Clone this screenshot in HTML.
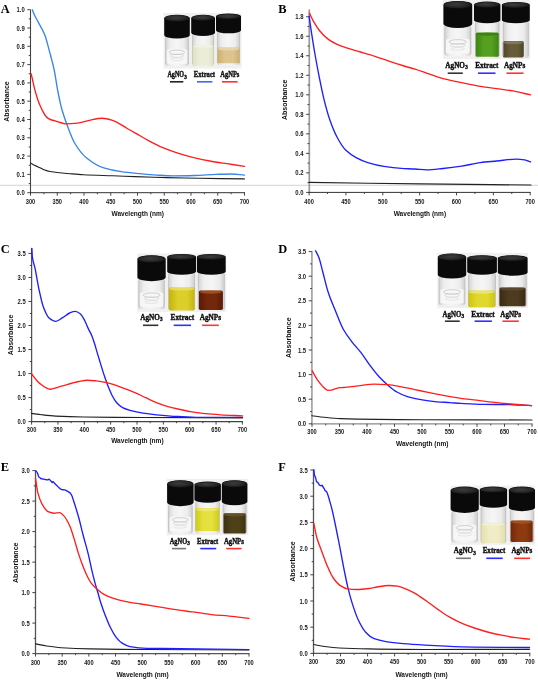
<!DOCTYPE html><html><head><meta charset="utf-8"><style>html,body{margin:0;padding:0;background:#fff;}svg{display:block;filter:blur(0.3px);}</style></head><body>
<svg width="538" height="685" viewBox="0 0 538 685">
<rect width="538" height="685" fill="#fff"/>
<defs><linearGradient id="glass" x1="0" x2="1" y1="0" y2="0"><stop offset="0" stop-color="#d0d0d0"/><stop offset="0.2" stop-color="#eeeeee"/><stop offset="0.5" stop-color="#f6f6f6"/><stop offset="0.8" stop-color="#ececec"/><stop offset="1" stop-color="#cccccc"/></linearGradient><radialGradient id="captop" cx="0.45" cy="0.4" r="0.6"><stop offset="0" stop-color="#3c3c3c"/><stop offset="0.6" stop-color="#2a2a2a"/><stop offset="1" stop-color="#161616"/></radialGradient></defs>
<path d="M0 185.3H538" stroke="#cfcfcf" stroke-width="0.9"/>
<text x="0.8" y="12.8" font-size="12.4" text-anchor="start" font-weight="bold" font-family="Liberation Serif, serif" fill="#000" >A</text>
<path d="M30.5 9.6V193.2" stroke="#444" stroke-width="1.1" fill="none"/>
<path d="M30 192.7H245" stroke="#333" stroke-width="1" fill="none"/>
<text x="24.7" y="195.2" font-size="6.8" text-anchor="end" font-weight="bold" font-family="Liberation Sans, sans-serif" fill="#1a1a1a" textLength="8.2" lengthAdjust="spacingAndGlyphs" >0.0</text>
<text x="24.7" y="176.9" font-size="6.8" text-anchor="end" font-weight="bold" font-family="Liberation Sans, sans-serif" fill="#1a1a1a" textLength="8.2" lengthAdjust="spacingAndGlyphs" >0.1</text>
<text x="24.7" y="158.6" font-size="6.8" text-anchor="end" font-weight="bold" font-family="Liberation Sans, sans-serif" fill="#1a1a1a" textLength="8.2" lengthAdjust="spacingAndGlyphs" >0.2</text>
<text x="24.7" y="140.3" font-size="6.8" text-anchor="end" font-weight="bold" font-family="Liberation Sans, sans-serif" fill="#1a1a1a" textLength="8.2" lengthAdjust="spacingAndGlyphs" >0.3</text>
<text x="24.7" y="122" font-size="6.8" text-anchor="end" font-weight="bold" font-family="Liberation Sans, sans-serif" fill="#1a1a1a" textLength="8.2" lengthAdjust="spacingAndGlyphs" >0.4</text>
<text x="24.7" y="103.7" font-size="6.8" text-anchor="end" font-weight="bold" font-family="Liberation Sans, sans-serif" fill="#1a1a1a" textLength="8.2" lengthAdjust="spacingAndGlyphs" >0.5</text>
<text x="24.7" y="85.4" font-size="6.8" text-anchor="end" font-weight="bold" font-family="Liberation Sans, sans-serif" fill="#1a1a1a" textLength="8.2" lengthAdjust="spacingAndGlyphs" >0.6</text>
<text x="24.7" y="67.1" font-size="6.8" text-anchor="end" font-weight="bold" font-family="Liberation Sans, sans-serif" fill="#1a1a1a" textLength="8.2" lengthAdjust="spacingAndGlyphs" >0.7</text>
<text x="24.7" y="48.8" font-size="6.8" text-anchor="end" font-weight="bold" font-family="Liberation Sans, sans-serif" fill="#1a1a1a" textLength="8.2" lengthAdjust="spacingAndGlyphs" >0.8</text>
<text x="24.7" y="30.5" font-size="6.8" text-anchor="end" font-weight="bold" font-family="Liberation Sans, sans-serif" fill="#1a1a1a" textLength="8.2" lengthAdjust="spacingAndGlyphs" >0.9</text>
<text x="24.7" y="12.2" font-size="6.8" text-anchor="end" font-weight="bold" font-family="Liberation Sans, sans-serif" fill="#1a1a1a" textLength="8.2" lengthAdjust="spacingAndGlyphs" >1.0</text>
<text x="30.5" y="203.8" font-size="6.8" text-anchor="middle" font-weight="bold" font-family="Liberation Sans, sans-serif" fill="#1a1a1a" textLength="9.5" lengthAdjust="spacingAndGlyphs" >300</text>
<text x="57.25" y="203.8" font-size="6.8" text-anchor="middle" font-weight="bold" font-family="Liberation Sans, sans-serif" fill="#1a1a1a" textLength="9.5" lengthAdjust="spacingAndGlyphs" >350</text>
<text x="84" y="203.8" font-size="6.8" text-anchor="middle" font-weight="bold" font-family="Liberation Sans, sans-serif" fill="#1a1a1a" textLength="9.5" lengthAdjust="spacingAndGlyphs" >400</text>
<text x="110.75" y="203.8" font-size="6.8" text-anchor="middle" font-weight="bold" font-family="Liberation Sans, sans-serif" fill="#1a1a1a" textLength="9.5" lengthAdjust="spacingAndGlyphs" >450</text>
<text x="137.5" y="203.8" font-size="6.8" text-anchor="middle" font-weight="bold" font-family="Liberation Sans, sans-serif" fill="#1a1a1a" textLength="9.5" lengthAdjust="spacingAndGlyphs" >500</text>
<text x="164.25" y="203.8" font-size="6.8" text-anchor="middle" font-weight="bold" font-family="Liberation Sans, sans-serif" fill="#1a1a1a" textLength="9.5" lengthAdjust="spacingAndGlyphs" >550</text>
<text x="191" y="203.8" font-size="6.8" text-anchor="middle" font-weight="bold" font-family="Liberation Sans, sans-serif" fill="#1a1a1a" textLength="9.5" lengthAdjust="spacingAndGlyphs" >600</text>
<text x="217.75" y="203.8" font-size="6.8" text-anchor="middle" font-weight="bold" font-family="Liberation Sans, sans-serif" fill="#1a1a1a" textLength="9.5" lengthAdjust="spacingAndGlyphs" >650</text>
<text x="244.5" y="203.8" font-size="6.8" text-anchor="middle" font-weight="bold" font-family="Liberation Sans, sans-serif" fill="#1a1a1a" textLength="9.5" lengthAdjust="spacingAndGlyphs" >700</text>
<path d="M27.3 192.7H30.5M28.7 183.55H30.5M27.3 174.4H30.5M28.7 165.25H30.5M27.3 156.1H30.5M28.7 146.95H30.5M27.3 137.8H30.5M28.7 128.65H30.5M27.3 119.5H30.5M28.7 110.35H30.5M27.3 101.2H30.5M28.7 92.05H30.5M27.3 82.9H30.5M28.7 73.75H30.5M27.3 64.6H30.5M28.7 55.45H30.5M27.3 46.3H30.5M28.7 37.15H30.5M27.3 28H30.5M28.7 18.85H30.5M27.3 9.7H30.5M30.5 192.7V195.7M43.88 192.7V194.3M57.25 192.7V195.7M70.62 192.7V194.3M84 192.7V195.7M97.38 192.7V194.3M110.75 192.7V195.7M124.12 192.7V194.3M137.5 192.7V195.7M150.88 192.7V194.3M164.25 192.7V195.7M177.62 192.7V194.3M191 192.7V195.7M204.38 192.7V194.3M217.75 192.7V195.7M231.12 192.7V194.3M244.5 192.7V195.7" stroke="#333" stroke-width="0.9" fill="none"/>
<text transform="translate(5.6 101.5) rotate(-90)" x="0" y="2.9" font-size="8" text-anchor="middle" font-weight="bold" font-family="Liberation Sans, sans-serif" fill="#111" textLength="40.5" lengthAdjust="spacingAndGlyphs">Absorbance</text>
<text x="137.7" y="216.2" font-size="7.7" text-anchor="middle" font-weight="bold" font-family="Liberation Sans, sans-serif" fill="#111" textLength="52.4" lengthAdjust="spacingAndGlyphs" >Wavelength (nm)</text>
<path d="M30.6 163C32.07 163.83 33.53 164.75 35 165.5C36.67 166.35 38.33 167.02 40 167.8C41.33 168.42 42.67 169.2 44 169.7C46 170.45 48 171.12 50 171.5C53.33 172.13 56.67 172.45 60 172.8C63.33 173.15 66.67 173.43 70 173.7C74.47 174.07 78.93 174.47 83.4 174.7C93.13 175.21 102.87 175.44 112.6 175.8C120.07 176.07 127.53 176.35 135 176.6C145.67 176.96 156.33 177.33 167 177.6C177.67 177.87 188.33 178.12 199 178.3C214.13 178.55 229.27 178.7 244.4 178.9" stroke="#222" stroke-width="1.15" fill="none" stroke-linejoin="round" stroke-linecap="round"/>
<path d="M32.3 9.8C32.87 11.2 33.43 12.75 34 14C35.37 17.01 36.73 19.25 38.1 21.9C40.33 26.23 42.57 29.31 44.8 35C46.47 39.25 48.13 46.38 49.8 52.6C51.27 58.07 52.73 63.02 54.2 70C55.37 75.55 56.53 84.47 57.7 90.5C58.97 97.04 60.23 103.31 61.5 108C63.43 115.15 65.37 120.31 67.3 125.5C69.73 132.03 72.17 138.89 74.6 143C78.5 149.59 82.4 154.52 86.3 157.7C92.13 162.46 97.97 166.05 103.8 167.9C109.63 169.75 115.47 170.86 121.3 171.7C127.53 172.6 133.77 173.11 140 173.7C145.47 174.22 150.93 174.77 156.4 175.1C162.1 175.45 167.8 175.9 173.5 175.9C180.63 175.9 187.77 175.7 194.9 175.5C202 175.31 209.1 174.65 216.2 174.4C221.2 174.23 226.2 174 231.2 174C235.6 174 240 174.73 244.4 175.1" stroke="#3a85ea" stroke-width="1.35" fill="none" stroke-linejoin="round" stroke-linecap="round"/>
<path d="M31.1 73.8C31.53 75.53 31.97 77.13 32.4 79C32.83 80.87 33.27 83.21 33.7 85.1C34.13 86.99 34.57 88.79 35 90.4C35.6 92.63 36.2 94.55 36.8 96.5C37.37 98.34 37.93 100.27 38.5 101.8C39.23 103.78 39.97 105.41 40.7 107C41.43 108.59 42.17 110.05 42.9 111.4C43.77 112.99 44.63 114.73 45.5 115.8C46.4 116.91 47.3 117.83 48.2 118.4C49.37 119.13 50.53 119.62 51.7 120C52.87 120.38 54.03 120.57 55.2 120.9C56.13 121.17 57.07 121.53 58 121.8C60.63 122.56 63.27 123.8 65.9 123.8C69.77 123.8 73.63 123.53 77.5 123.2C81.4 122.87 85.3 121.06 89.2 120.3C93.57 119.45 97.93 118.2 102.3 118.2C105.73 118.2 109.17 119.3 112.6 120.3C117.47 121.72 122.33 125.79 127.2 128.5C129.8 129.95 132.4 131.34 135 132.8C139.27 135.2 143.53 137.91 147.8 140.2C152.8 142.89 157.8 145.61 162.8 147.7C167.8 149.79 172.8 151.52 177.8 153.1C182.77 154.67 187.73 156.08 192.7 157.3C198.4 158.7 204.1 159.96 209.8 161C215.5 162.04 221.2 162.83 226.9 163.7C232.73 164.59 238.57 165.43 244.4 166.3" stroke="#ff1e1e" stroke-width="1.35" fill="none" stroke-linejoin="round" stroke-linecap="round"/>
<text x="278.3" y="13" font-size="12.4" text-anchor="start" font-weight="bold" font-family="Liberation Serif, serif" fill="#000" >B</text>
<path d="M309.3 9.4V192.9" stroke="#9a9a9a" stroke-width="1.7" fill="none"/>
<path d="M308.8 192.4H530.7" stroke="#333" stroke-width="1" fill="none"/>
<text x="303.5" y="194.9" font-size="6.8" text-anchor="end" font-weight="bold" font-family="Liberation Sans, sans-serif" fill="#1a1a1a" textLength="8.2" lengthAdjust="spacingAndGlyphs" >0.0</text>
<text x="303.5" y="175.38" font-size="6.8" text-anchor="end" font-weight="bold" font-family="Liberation Sans, sans-serif" fill="#1a1a1a" textLength="8.2" lengthAdjust="spacingAndGlyphs" >0.2</text>
<text x="303.5" y="155.86" font-size="6.8" text-anchor="end" font-weight="bold" font-family="Liberation Sans, sans-serif" fill="#1a1a1a" textLength="8.2" lengthAdjust="spacingAndGlyphs" >0.4</text>
<text x="303.5" y="136.34" font-size="6.8" text-anchor="end" font-weight="bold" font-family="Liberation Sans, sans-serif" fill="#1a1a1a" textLength="8.2" lengthAdjust="spacingAndGlyphs" >0.6</text>
<text x="303.5" y="116.82" font-size="6.8" text-anchor="end" font-weight="bold" font-family="Liberation Sans, sans-serif" fill="#1a1a1a" textLength="8.2" lengthAdjust="spacingAndGlyphs" >0.8</text>
<text x="303.5" y="97.3" font-size="6.8" text-anchor="end" font-weight="bold" font-family="Liberation Sans, sans-serif" fill="#1a1a1a" textLength="8.2" lengthAdjust="spacingAndGlyphs" >1.0</text>
<text x="303.5" y="77.78" font-size="6.8" text-anchor="end" font-weight="bold" font-family="Liberation Sans, sans-serif" fill="#1a1a1a" textLength="8.2" lengthAdjust="spacingAndGlyphs" >1.2</text>
<text x="303.5" y="58.26" font-size="6.8" text-anchor="end" font-weight="bold" font-family="Liberation Sans, sans-serif" fill="#1a1a1a" textLength="8.2" lengthAdjust="spacingAndGlyphs" >1.4</text>
<text x="303.5" y="38.74" font-size="6.8" text-anchor="end" font-weight="bold" font-family="Liberation Sans, sans-serif" fill="#1a1a1a" textLength="8.2" lengthAdjust="spacingAndGlyphs" >1.6</text>
<text x="303.5" y="19.22" font-size="6.8" text-anchor="end" font-weight="bold" font-family="Liberation Sans, sans-serif" fill="#1a1a1a" textLength="8.2" lengthAdjust="spacingAndGlyphs" >1.8</text>
<text x="309.1" y="203.6" font-size="6.8" text-anchor="middle" font-weight="bold" font-family="Liberation Sans, sans-serif" fill="#1a1a1a" textLength="9.5" lengthAdjust="spacingAndGlyphs" >400</text>
<text x="345.95" y="203.6" font-size="6.8" text-anchor="middle" font-weight="bold" font-family="Liberation Sans, sans-serif" fill="#1a1a1a" textLength="9.5" lengthAdjust="spacingAndGlyphs" >450</text>
<text x="382.8" y="203.6" font-size="6.8" text-anchor="middle" font-weight="bold" font-family="Liberation Sans, sans-serif" fill="#1a1a1a" textLength="9.5" lengthAdjust="spacingAndGlyphs" >500</text>
<text x="419.65" y="203.6" font-size="6.8" text-anchor="middle" font-weight="bold" font-family="Liberation Sans, sans-serif" fill="#1a1a1a" textLength="9.5" lengthAdjust="spacingAndGlyphs" >550</text>
<text x="456.5" y="203.6" font-size="6.8" text-anchor="middle" font-weight="bold" font-family="Liberation Sans, sans-serif" fill="#1a1a1a" textLength="9.5" lengthAdjust="spacingAndGlyphs" >600</text>
<text x="493.35" y="203.6" font-size="6.8" text-anchor="middle" font-weight="bold" font-family="Liberation Sans, sans-serif" fill="#1a1a1a" textLength="9.5" lengthAdjust="spacingAndGlyphs" >650</text>
<text x="530.2" y="203.6" font-size="6.8" text-anchor="middle" font-weight="bold" font-family="Liberation Sans, sans-serif" fill="#1a1a1a" textLength="9.5" lengthAdjust="spacingAndGlyphs" >700</text>
<path d="M306.1 192.4H309.3M307.5 182.64H309.3M306.1 172.88H309.3M307.5 163.12H309.3M306.1 153.36H309.3M307.5 143.6H309.3M306.1 133.84H309.3M307.5 124.08H309.3M306.1 114.32H309.3M307.5 104.56H309.3M306.1 94.8H309.3M307.5 85.04H309.3M306.1 75.28H309.3M307.5 65.52H309.3M306.1 55.76H309.3M307.5 46H309.3M306.1 36.24H309.3M307.5 26.48H309.3M306.1 16.72H309.3M309.1 192.4V195.4M327.53 192.4V194M345.95 192.4V195.4M364.38 192.4V194M382.8 192.4V195.4M401.23 192.4V194M419.65 192.4V195.4M438.08 192.4V194M456.5 192.4V195.4M474.93 192.4V194M493.35 192.4V195.4M511.78 192.4V194M530.2 192.4V195.4" stroke="#333" stroke-width="0.9" fill="none"/>
<text transform="translate(284.1 99.8) rotate(-90)" x="0" y="2.9" font-size="8" text-anchor="middle" font-weight="bold" font-family="Liberation Sans, sans-serif" fill="#111" textLength="40.5" lengthAdjust="spacingAndGlyphs">Absorbance</text>
<text x="419.9" y="216" font-size="7.7" text-anchor="middle" font-weight="bold" font-family="Liberation Sans, sans-serif" fill="#111" textLength="52.4" lengthAdjust="spacingAndGlyphs" >Wavelength (nm)</text>
<path d="M309.1 182.4C346.07 182.9 383.03 183.48 420 183.9C457 184.32 494 184.63 531 185" stroke="#222" stroke-width="1.15" fill="none" stroke-linejoin="round" stroke-linecap="round"/>
<path d="M309.1 16.1C309.87 21.43 310.63 27.07 311.4 32.1C312.67 40.42 313.93 48.27 315.2 55.5C316.67 63.87 318.13 71.53 319.6 78.8C321.07 86.07 322.53 93.38 324 99.3C325.93 107.1 327.87 114.15 329.8 119.7C332.23 126.69 334.67 132.7 337.1 137.2C340.03 142.63 342.97 147.44 345.9 150.3C349.3 153.62 352.7 155.77 356.1 157.6C360 159.7 363.9 161.39 367.8 162.6C373.13 164.25 378.47 165.57 383.8 166.4C389.63 167.3 395.47 168.04 401.3 168.4C405.87 168.68 410.43 168.74 415 169C418.9 169.22 422.8 169.9 426.7 169.9C432.13 169.9 437.57 169.06 443 168.5C449.23 167.86 455.47 167.05 461.7 166.1C467.9 165.15 474.1 163.39 480.3 162.6C485.77 161.9 491.23 161.53 496.7 161C503.3 160.36 509.9 159.1 516.5 159.1C519.23 159.1 521.97 159.41 524.7 159.8C526.63 160.08 528.57 161.2 530.5 161.9" stroke="#1e1eff" stroke-width="1.35" fill="none" stroke-linejoin="round" stroke-linecap="round"/>
<path d="M309.4 13.1C310.87 16.03 312.33 19.35 313.8 21.9C315.73 25.26 317.67 28.35 319.6 30.7C322.53 34.26 325.47 37.27 328.4 39.4C331.3 41.51 334.2 43.08 337.1 44.4C340.5 45.95 343.9 47.09 347.3 48.2C351.7 49.64 356.1 50.71 360.5 52C365.33 53.41 370.17 54.76 375 56.3C379.87 57.85 384.73 59.68 389.6 61.3C394.47 62.92 399.33 64.5 404.2 66C407.8 67.11 411.4 68.07 415 69.2C419.67 70.67 424.33 72.36 429 73.9C434.43 75.7 439.87 77.8 445.3 79.2C450.77 80.61 456.23 81.59 461.7 82.7C467.9 83.96 474.1 85.29 480.3 86.3C485.77 87.19 491.23 87.83 496.7 88.6C502.13 89.36 507.57 89.95 513 90.9C518.83 91.92 524.67 93.57 530.5 94.9" stroke="#ff1e1e" stroke-width="1.35" fill="none" stroke-linejoin="round" stroke-linecap="round"/>
<text x="0.8" y="252.7" font-size="12.4" text-anchor="start" font-weight="bold" font-family="Liberation Serif, serif" fill="#000" >C</text>
<path d="M31.6 248.1V422.1" stroke="#555" stroke-width="1.3" fill="none"/>
<path d="M31.1 421.6H242.9" stroke="#444" stroke-width="1.1" fill="none"/>
<text x="25.8" y="424.1" font-size="6.8" text-anchor="end" font-weight="bold" font-family="Liberation Sans, sans-serif" fill="#1a1a1a" textLength="8.2" lengthAdjust="spacingAndGlyphs" >0.0</text>
<text x="25.8" y="400.08" font-size="6.8" text-anchor="end" font-weight="bold" font-family="Liberation Sans, sans-serif" fill="#1a1a1a" textLength="8.2" lengthAdjust="spacingAndGlyphs" >0.5</text>
<text x="25.8" y="376.05" font-size="6.8" text-anchor="end" font-weight="bold" font-family="Liberation Sans, sans-serif" fill="#1a1a1a" textLength="8.2" lengthAdjust="spacingAndGlyphs" >1.0</text>
<text x="25.8" y="352.03" font-size="6.8" text-anchor="end" font-weight="bold" font-family="Liberation Sans, sans-serif" fill="#1a1a1a" textLength="8.2" lengthAdjust="spacingAndGlyphs" >1.5</text>
<text x="25.8" y="328" font-size="6.8" text-anchor="end" font-weight="bold" font-family="Liberation Sans, sans-serif" fill="#1a1a1a" textLength="8.2" lengthAdjust="spacingAndGlyphs" >2.0</text>
<text x="25.8" y="303.98" font-size="6.8" text-anchor="end" font-weight="bold" font-family="Liberation Sans, sans-serif" fill="#1a1a1a" textLength="8.2" lengthAdjust="spacingAndGlyphs" >2.5</text>
<text x="25.8" y="279.95" font-size="6.8" text-anchor="end" font-weight="bold" font-family="Liberation Sans, sans-serif" fill="#1a1a1a" textLength="8.2" lengthAdjust="spacingAndGlyphs" >3.0</text>
<text x="25.8" y="255.93" font-size="6.8" text-anchor="end" font-weight="bold" font-family="Liberation Sans, sans-serif" fill="#1a1a1a" textLength="8.2" lengthAdjust="spacingAndGlyphs" >3.5</text>
<text x="31.6" y="431.8" font-size="6.8" text-anchor="middle" font-weight="bold" font-family="Liberation Sans, sans-serif" fill="#1a1a1a" textLength="9.5" lengthAdjust="spacingAndGlyphs" >300</text>
<text x="57.95" y="431.8" font-size="6.8" text-anchor="middle" font-weight="bold" font-family="Liberation Sans, sans-serif" fill="#1a1a1a" textLength="9.5" lengthAdjust="spacingAndGlyphs" >350</text>
<text x="84.3" y="431.8" font-size="6.8" text-anchor="middle" font-weight="bold" font-family="Liberation Sans, sans-serif" fill="#1a1a1a" textLength="9.5" lengthAdjust="spacingAndGlyphs" >400</text>
<text x="110.65" y="431.8" font-size="6.8" text-anchor="middle" font-weight="bold" font-family="Liberation Sans, sans-serif" fill="#1a1a1a" textLength="9.5" lengthAdjust="spacingAndGlyphs" >450</text>
<text x="137" y="431.8" font-size="6.8" text-anchor="middle" font-weight="bold" font-family="Liberation Sans, sans-serif" fill="#1a1a1a" textLength="9.5" lengthAdjust="spacingAndGlyphs" >500</text>
<text x="163.35" y="431.8" font-size="6.8" text-anchor="middle" font-weight="bold" font-family="Liberation Sans, sans-serif" fill="#1a1a1a" textLength="9.5" lengthAdjust="spacingAndGlyphs" >550</text>
<text x="189.7" y="431.8" font-size="6.8" text-anchor="middle" font-weight="bold" font-family="Liberation Sans, sans-serif" fill="#1a1a1a" textLength="9.5" lengthAdjust="spacingAndGlyphs" >600</text>
<text x="216.05" y="431.8" font-size="6.8" text-anchor="middle" font-weight="bold" font-family="Liberation Sans, sans-serif" fill="#1a1a1a" textLength="9.5" lengthAdjust="spacingAndGlyphs" >650</text>
<text x="242.4" y="431.8" font-size="6.8" text-anchor="middle" font-weight="bold" font-family="Liberation Sans, sans-serif" fill="#1a1a1a" textLength="9.5" lengthAdjust="spacingAndGlyphs" >700</text>
<path d="M28.4 421.6H31.6M29.8 409.59H31.6M28.4 397.58H31.6M29.8 385.56H31.6M28.4 373.55H31.6M29.8 361.54H31.6M28.4 349.53H31.6M29.8 337.51H31.6M28.4 325.5H31.6M29.8 313.49H31.6M28.4 301.48H31.6M29.8 289.46H31.6M28.4 277.45H31.6M29.8 265.44H31.6M28.4 253.43H31.6M31.6 421.6V424.6M44.78 421.6V423.2M57.95 421.6V424.6M71.12 421.6V423.2M84.3 421.6V424.6M97.47 421.6V423.2M110.65 421.6V424.6M123.82 421.6V423.2M137 421.6V424.6M150.18 421.6V423.2M163.35 421.6V424.6M176.53 421.6V423.2M189.7 421.6V424.6M202.88 421.6V423.2M216.05 421.6V424.6M229.22 421.6V423.2M242.4 421.6V424.6" stroke="#333" stroke-width="0.9" fill="none"/>
<text transform="translate(9.9 334.9) rotate(-90)" x="0" y="2.9" font-size="8" text-anchor="middle" font-weight="bold" font-family="Liberation Sans, sans-serif" fill="#111" textLength="40.5" lengthAdjust="spacingAndGlyphs">Absorbance</text>
<text x="137.4" y="443.4" font-size="7.7" text-anchor="middle" font-weight="bold" font-family="Liberation Sans, sans-serif" fill="#111" textLength="52.4" lengthAdjust="spacingAndGlyphs" >Wavelength (nm)</text>
<path d="M31.6 413.4C35.03 413.87 38.47 414.41 41.9 414.8C46.5 415.32 51.1 415.86 55.7 416.1C64.93 416.57 74.17 416.87 83.4 417C103.27 417.29 123.13 417.41 143 417.5C176.17 417.65 209.33 417.7 242.5 417.8" stroke="#222" stroke-width="1.15" fill="none" stroke-linejoin="round" stroke-linecap="round"/>
<path d="M31.8 248.4C31.97 251.1 32.13 255.19 32.3 256.5C33.17 263.29 34.03 263.62 34.9 267.7C36.3 274.29 37.7 283.46 39.1 289.9C40.47 296.18 41.83 302.89 43.2 306.6C45.07 311.67 46.93 316.13 48.8 317.7C51.1 319.64 53.4 321.3 55.7 321.3C58 321.3 60.3 319.05 62.6 317.7C64.93 316.33 67.27 313.92 69.6 313C71.47 312.26 73.33 311.4 75.2 311.4C76.97 311.4 78.73 312.65 80.5 314C81.97 315.12 83.43 318.24 84.9 321C86.07 323.19 87.23 326.43 88.4 328.9C89.57 331.37 90.73 333.11 91.9 335.9C92.8 338.06 93.7 340.97 94.6 343.8C95.47 346.52 96.33 349.68 97.2 352.6C98.07 355.52 98.93 358.44 99.8 361.3C100.7 364.27 101.6 367.27 102.5 370.1C103.37 372.83 104.23 375.5 105.1 378C106.27 381.37 107.43 384.71 108.6 387.6C109.77 390.49 110.93 393.31 112.1 395.5C113.57 398.26 115.03 400.84 116.5 402.5C118.53 404.79 120.57 406.65 122.6 407.7C125.07 408.98 127.53 409.72 130 410.4C134.33 411.6 138.67 412.53 143 413.2C147.47 413.89 151.93 414.37 156.4 414.8C163.53 415.49 170.67 416.11 177.8 416.5C184.9 416.89 192 417.4 199.1 417.4C213.57 417.4 228.03 417.4 242.5 417.4" stroke="#1e1eff" stroke-width="1.35" fill="none" stroke-linejoin="round" stroke-linecap="round"/>
<path d="M31.6 374C34.1 376.97 36.6 380.94 39.1 382.9C42.8 385.81 46.5 389.2 50.2 389.2C53.9 389.2 57.6 387.2 61.3 386.2C67.13 384.63 72.97 382.59 78.8 381.5C81.7 380.96 84.6 380.2 87.5 380.2C90.43 380.2 93.37 380.58 96.3 380.9C99.8 381.28 103.3 381.94 106.8 382.7C110.33 383.46 113.87 384.63 117.4 385.8C121.6 387.2 125.8 389.09 130 390.7C131.67 391.34 133.33 391.9 135 392.6C138.57 394.09 142.13 396.03 145.7 397.7C149.27 399.37 152.83 401.19 156.4 402.6C159.97 404.01 163.53 405.26 167.1 406.3C170.67 407.34 174.23 408.19 177.8 409C182.07 409.96 186.33 410.89 190.6 411.6C195.57 412.43 200.53 413.22 205.5 413.7C210.5 414.18 215.5 414.5 220.5 414.8C227.83 415.24 235.17 415.53 242.5 415.9" stroke="#ff1e1e" stroke-width="1.35" fill="none" stroke-linejoin="round" stroke-linecap="round"/>
<text x="278.3" y="253" font-size="12.4" text-anchor="start" font-weight="bold" font-family="Liberation Serif, serif" fill="#000" >D</text>
<path d="M311.9 251.1V424.3" stroke="#a8a8a8" stroke-width="1.8" fill="none"/>
<path d="M311.4 423.8H532.5" stroke="#8a8a8a" stroke-width="1.2" fill="none"/>
<text x="306.1" y="426.3" font-size="6.8" text-anchor="end" font-weight="bold" font-family="Liberation Sans, sans-serif" fill="#1a1a1a" textLength="8.2" lengthAdjust="spacingAndGlyphs" >0.0</text>
<text x="306.1" y="401.7" font-size="6.8" text-anchor="end" font-weight="bold" font-family="Liberation Sans, sans-serif" fill="#1a1a1a" textLength="8.2" lengthAdjust="spacingAndGlyphs" >0.5</text>
<text x="306.1" y="377.1" font-size="6.8" text-anchor="end" font-weight="bold" font-family="Liberation Sans, sans-serif" fill="#1a1a1a" textLength="8.2" lengthAdjust="spacingAndGlyphs" >1.0</text>
<text x="306.1" y="352.5" font-size="6.8" text-anchor="end" font-weight="bold" font-family="Liberation Sans, sans-serif" fill="#1a1a1a" textLength="8.2" lengthAdjust="spacingAndGlyphs" >1.5</text>
<text x="306.1" y="327.9" font-size="6.8" text-anchor="end" font-weight="bold" font-family="Liberation Sans, sans-serif" fill="#1a1a1a" textLength="8.2" lengthAdjust="spacingAndGlyphs" >2.0</text>
<text x="306.1" y="303.3" font-size="6.8" text-anchor="end" font-weight="bold" font-family="Liberation Sans, sans-serif" fill="#1a1a1a" textLength="8.2" lengthAdjust="spacingAndGlyphs" >2.5</text>
<text x="306.1" y="278.7" font-size="6.8" text-anchor="end" font-weight="bold" font-family="Liberation Sans, sans-serif" fill="#1a1a1a" textLength="8.2" lengthAdjust="spacingAndGlyphs" >3.0</text>
<text x="306.1" y="254.1" font-size="6.8" text-anchor="end" font-weight="bold" font-family="Liberation Sans, sans-serif" fill="#1a1a1a" textLength="8.2" lengthAdjust="spacingAndGlyphs" >3.5</text>
<text x="312" y="434" font-size="6.8" text-anchor="middle" font-weight="bold" font-family="Liberation Sans, sans-serif" fill="#1a1a1a" textLength="9.5" lengthAdjust="spacingAndGlyphs" >300</text>
<text x="339.5" y="434" font-size="6.8" text-anchor="middle" font-weight="bold" font-family="Liberation Sans, sans-serif" fill="#1a1a1a" textLength="9.5" lengthAdjust="spacingAndGlyphs" >350</text>
<text x="367" y="434" font-size="6.8" text-anchor="middle" font-weight="bold" font-family="Liberation Sans, sans-serif" fill="#1a1a1a" textLength="9.5" lengthAdjust="spacingAndGlyphs" >400</text>
<text x="394.5" y="434" font-size="6.8" text-anchor="middle" font-weight="bold" font-family="Liberation Sans, sans-serif" fill="#1a1a1a" textLength="9.5" lengthAdjust="spacingAndGlyphs" >450</text>
<text x="422" y="434" font-size="6.8" text-anchor="middle" font-weight="bold" font-family="Liberation Sans, sans-serif" fill="#1a1a1a" textLength="9.5" lengthAdjust="spacingAndGlyphs" >500</text>
<text x="449.5" y="434" font-size="6.8" text-anchor="middle" font-weight="bold" font-family="Liberation Sans, sans-serif" fill="#1a1a1a" textLength="9.5" lengthAdjust="spacingAndGlyphs" >550</text>
<text x="477" y="434" font-size="6.8" text-anchor="middle" font-weight="bold" font-family="Liberation Sans, sans-serif" fill="#1a1a1a" textLength="9.5" lengthAdjust="spacingAndGlyphs" >600</text>
<text x="504.5" y="434" font-size="6.8" text-anchor="middle" font-weight="bold" font-family="Liberation Sans, sans-serif" fill="#1a1a1a" textLength="9.5" lengthAdjust="spacingAndGlyphs" >650</text>
<text x="532" y="434" font-size="6.8" text-anchor="middle" font-weight="bold" font-family="Liberation Sans, sans-serif" fill="#1a1a1a" textLength="9.5" lengthAdjust="spacingAndGlyphs" >700</text>
<path d="M308.7 423.8H311.9M310.1 411.5H311.9M308.7 399.2H311.9M310.1 386.9H311.9M308.7 374.6H311.9M310.1 362.3H311.9M308.7 350H311.9M310.1 337.7H311.9M308.7 325.4H311.9M310.1 313.1H311.9M308.7 300.8H311.9M310.1 288.5H311.9M308.7 276.2H311.9M310.1 263.9H311.9M308.7 251.6H311.9M312 423.8V426.8M325.75 423.8V425.4M339.5 423.8V426.8M353.25 423.8V425.4M367 423.8V426.8M380.75 423.8V425.4M394.5 423.8V426.8M408.25 423.8V425.4M422 423.8V426.8M435.75 423.8V425.4M449.5 423.8V426.8M463.25 423.8V425.4M477 423.8V426.8M490.75 423.8V425.4M504.5 423.8V426.8M518.25 423.8V425.4M532 423.8V426.8" stroke="#333" stroke-width="0.9" fill="none"/>
<text transform="translate(287.7 337.7) rotate(-90)" x="0" y="2.9" font-size="8" text-anchor="middle" font-weight="bold" font-family="Liberation Sans, sans-serif" fill="#111" textLength="40.5" lengthAdjust="spacingAndGlyphs">Absorbance</text>
<text x="422.2" y="446" font-size="7.7" text-anchor="middle" font-weight="bold" font-family="Liberation Sans, sans-serif" fill="#111" textLength="52.4" lengthAdjust="spacingAndGlyphs" >Wavelength (nm)</text>
<path d="M311.8 415.7C315.93 416.23 320.07 416.89 324.2 417.3C329.6 417.84 335 418.45 340.4 418.6C367.93 419.35 395.47 419.57 423 419.7C459.33 419.87 495.67 419.9 532 420" stroke="#222" stroke-width="1.15" fill="none" stroke-linejoin="round" stroke-linecap="round"/>
<path d="M315.6 250.9C316.67 253 317.73 254.49 318.8 257.2C320.13 260.59 321.47 267.03 322.8 272C324.6 278.71 326.4 286.76 328.2 292.3C330.47 299.28 332.73 304.23 335 309.8C337.8 316.68 340.6 324.5 343.4 329.5C346.37 334.8 349.33 338.45 352.3 342.3C355.27 346.15 358.23 348.96 361.2 352.8C364.2 356.68 367.2 361.7 370.2 365.7C373.17 369.66 376.13 373.59 379.1 376.8C382.07 380.01 385.03 382.8 388 385.3C390.97 387.8 393.93 390.34 396.9 392C400.63 394.09 404.37 395.81 408.1 396.9C413.3 398.41 418.5 399.41 423.7 400.2C428.17 400.88 432.63 401.44 437.1 401.8C441.4 402.15 445.7 402.31 450 402.6C453.57 402.84 457.13 403.2 460.7 403.4C468.33 403.83 475.97 404.34 483.6 404.4C491.2 404.46 498.8 404.44 506.4 404.5C514.77 404.57 523.13 405.23 531.5 405.6" stroke="#1e1eff" stroke-width="1.35" fill="none" stroke-linejoin="round" stroke-linecap="round"/>
<path d="M312.2 370.8C312.97 372.2 313.73 373.66 314.5 375C315.43 376.63 316.37 378.32 317.3 379.7C318.23 381.08 319.17 382.26 320.1 383.4C321.03 384.54 321.97 385.64 322.9 386.6C323.83 387.56 324.77 388.62 325.7 389.2C326.47 389.68 327.23 390.3 328 390.3C329.07 390.3 330.13 390.26 331.2 390.2C332.13 390.15 333.07 389.52 334 389.2C334.93 388.88 335.87 388.54 336.8 388.3C337.73 388.06 338.67 387.78 339.6 387.7C340.83 387.59 342.07 387.58 343.3 387.5C344.53 387.42 345.77 387.32 347 387.2C348.57 387.05 350.13 386.79 351.7 386.6C353.8 386.35 355.9 386.13 358 385.9C363.53 385.29 369.07 384.1 374.6 384.1C379.07 384.1 383.53 384.33 388 384.6C392.47 384.87 396.93 385.98 401.4 386.8C405.87 387.62 410.33 388.66 414.8 389.6C419.23 390.53 423.67 391.51 428.1 392.4C433.63 393.52 439.17 394.6 444.7 395.6C450.03 396.56 455.37 397.58 460.7 398.3C466.03 399.02 471.37 399.45 476.7 400.1C482.03 400.75 487.37 401.6 492.7 402.2C498.8 402.89 504.9 403.47 511 404C517.83 404.6 524.67 405.07 531.5 405.6" stroke="#ff1e1e" stroke-width="1.35" fill="none" stroke-linejoin="round" stroke-linecap="round"/>
<text x="0.8" y="470.6" font-size="12.4" text-anchor="start" font-weight="bold" font-family="Liberation Serif, serif" fill="#000" >E</text>
<path d="M35.5 470.6V654.1" stroke="#555" stroke-width="1.3" fill="none"/>
<path d="M35 653.6H249.5" stroke="#555" stroke-width="1.1" fill="none"/>
<text x="29.7" y="656.1" font-size="6.8" text-anchor="end" font-weight="bold" font-family="Liberation Sans, sans-serif" fill="#1a1a1a" textLength="8.2" lengthAdjust="spacingAndGlyphs" >0.0</text>
<text x="29.7" y="625.6" font-size="6.8" text-anchor="end" font-weight="bold" font-family="Liberation Sans, sans-serif" fill="#1a1a1a" textLength="8.2" lengthAdjust="spacingAndGlyphs" >0.5</text>
<text x="29.7" y="595.1" font-size="6.8" text-anchor="end" font-weight="bold" font-family="Liberation Sans, sans-serif" fill="#1a1a1a" textLength="8.2" lengthAdjust="spacingAndGlyphs" >1.0</text>
<text x="29.7" y="564.6" font-size="6.8" text-anchor="end" font-weight="bold" font-family="Liberation Sans, sans-serif" fill="#1a1a1a" textLength="8.2" lengthAdjust="spacingAndGlyphs" >1.5</text>
<text x="29.7" y="534.1" font-size="6.8" text-anchor="end" font-weight="bold" font-family="Liberation Sans, sans-serif" fill="#1a1a1a" textLength="8.2" lengthAdjust="spacingAndGlyphs" >2.0</text>
<text x="29.7" y="503.6" font-size="6.8" text-anchor="end" font-weight="bold" font-family="Liberation Sans, sans-serif" fill="#1a1a1a" textLength="8.2" lengthAdjust="spacingAndGlyphs" >2.5</text>
<text x="29.7" y="473.1" font-size="6.8" text-anchor="end" font-weight="bold" font-family="Liberation Sans, sans-serif" fill="#1a1a1a" textLength="8.2" lengthAdjust="spacingAndGlyphs" >3.0</text>
<text x="35.5" y="664.6" font-size="6.8" text-anchor="middle" font-weight="bold" font-family="Liberation Sans, sans-serif" fill="#1a1a1a" textLength="9.5" lengthAdjust="spacingAndGlyphs" >300</text>
<text x="62.19" y="664.6" font-size="6.8" text-anchor="middle" font-weight="bold" font-family="Liberation Sans, sans-serif" fill="#1a1a1a" textLength="9.5" lengthAdjust="spacingAndGlyphs" >350</text>
<text x="88.88" y="664.6" font-size="6.8" text-anchor="middle" font-weight="bold" font-family="Liberation Sans, sans-serif" fill="#1a1a1a" textLength="9.5" lengthAdjust="spacingAndGlyphs" >400</text>
<text x="115.56" y="664.6" font-size="6.8" text-anchor="middle" font-weight="bold" font-family="Liberation Sans, sans-serif" fill="#1a1a1a" textLength="9.5" lengthAdjust="spacingAndGlyphs" >450</text>
<text x="142.25" y="664.6" font-size="6.8" text-anchor="middle" font-weight="bold" font-family="Liberation Sans, sans-serif" fill="#1a1a1a" textLength="9.5" lengthAdjust="spacingAndGlyphs" >500</text>
<text x="168.94" y="664.6" font-size="6.8" text-anchor="middle" font-weight="bold" font-family="Liberation Sans, sans-serif" fill="#1a1a1a" textLength="9.5" lengthAdjust="spacingAndGlyphs" >550</text>
<text x="195.62" y="664.6" font-size="6.8" text-anchor="middle" font-weight="bold" font-family="Liberation Sans, sans-serif" fill="#1a1a1a" textLength="9.5" lengthAdjust="spacingAndGlyphs" >600</text>
<text x="222.31" y="664.6" font-size="6.8" text-anchor="middle" font-weight="bold" font-family="Liberation Sans, sans-serif" fill="#1a1a1a" textLength="9.5" lengthAdjust="spacingAndGlyphs" >650</text>
<text x="249" y="664.6" font-size="6.8" text-anchor="middle" font-weight="bold" font-family="Liberation Sans, sans-serif" fill="#1a1a1a" textLength="9.5" lengthAdjust="spacingAndGlyphs" >700</text>
<path d="M32.3 653.6H35.5M33.7 638.35H35.5M32.3 623.1H35.5M33.7 607.85H35.5M32.3 592.6H35.5M33.7 577.35H35.5M32.3 562.1H35.5M33.7 546.85H35.5M32.3 531.6H35.5M33.7 516.35H35.5M32.3 501.1H35.5M33.7 485.85H35.5M32.3 470.6H35.5M35.5 653.6V656.6M48.84 653.6V655.2M62.19 653.6V656.6M75.53 653.6V655.2M88.88 653.6V656.6M102.22 653.6V655.2M115.56 653.6V656.6M128.91 653.6V655.2M142.25 653.6V656.6M155.59 653.6V655.2M168.94 653.6V656.6M182.28 653.6V655.2M195.62 653.6V656.6M208.97 653.6V655.2M222.31 653.6V656.6M235.66 653.6V655.2M249 653.6V656.6" stroke="#333" stroke-width="0.9" fill="none"/>
<text transform="translate(14.7 562.8) rotate(-90)" x="0" y="2.9" font-size="8" text-anchor="middle" font-weight="bold" font-family="Liberation Sans, sans-serif" fill="#111" textLength="40.5" lengthAdjust="spacingAndGlyphs">Absorbance</text>
<text x="142.6" y="677.2" font-size="7.7" text-anchor="middle" font-weight="bold" font-family="Liberation Sans, sans-serif" fill="#111" textLength="52.4" lengthAdjust="spacingAndGlyphs" >Wavelength (nm)</text>
<path d="M35.5 643.9C39.2 644.6 42.9 645.46 46.6 646C51.47 646.71 56.33 647.39 61.2 647.7C70.93 648.32 80.67 648.72 90.4 648.9C109.27 649.24 128.13 649.37 147 649.5C180.97 649.74 214.93 649.83 248.9 650" stroke="#222" stroke-width="1.15" fill="none" stroke-linejoin="round" stroke-linecap="round"/>
<path d="M35.7 470.8C35.93 471 36.17 471.14 36.4 471.4C36.8 471.84 37.2 472.51 37.6 473.4C37.93 474.14 38.27 476.13 38.6 476.6C39.07 477.25 39.53 477.46 40 477.8C40.6 478.23 41.2 478.79 41.8 478.9C42.43 479.01 43.07 479.01 43.7 479.1C44.47 479.21 45.23 479.59 46 479.7C46.63 479.79 47.27 479.9 47.9 479.9C48.2 479.9 48.5 479.1 48.8 479.1C49.43 479.1 50.07 480.22 50.7 480.8C51.3 481.35 51.9 482.5 52.5 482.5C52.67 482.5 52.83 481.7 53 481.7C53.6 481.7 54.2 483 54.8 483.6C55.6 484.41 56.4 485.09 57.2 485.9C57.8 486.5 58.4 487.31 59 487.8C59.93 488.56 60.87 489.43 61.8 489.6C62.73 489.77 63.67 489.74 64.6 489.9C65.53 490.06 66.47 490.71 67.4 491.2C68.33 491.69 69.27 492.02 70.2 492.9C70.8 493.46 71.4 494.73 72 496.1C72.37 496.94 72.73 498.3 73.1 499.4C73.5 500.6 73.9 501.75 74.3 503C75.77 507.57 77.23 512.21 78.7 517.5C80.17 522.79 81.63 529.35 83.1 535C84.9 541.93 86.7 547.65 88.5 555.1C89.6 559.65 90.7 565.54 91.8 570.2C92.93 575 94.07 579.51 95.2 583.6C96.03 586.61 96.87 589.16 97.7 592C98.83 595.87 99.97 600.28 101.1 603.8C102.5 608.14 103.9 611.91 105.3 615.5C106.97 619.77 108.63 623.98 110.3 627.3C112.27 631.22 114.23 634.94 116.2 637.4C118.17 639.86 120.13 642 122.1 643.2C124.73 644.81 127.37 646.14 130 646.6C135.67 647.6 141.33 648.23 147 648.3C152.1 648.36 157.2 648.36 162.3 648.4C191.17 648.64 220.03 649.2 248.9 649.6" stroke="#1e1eff" stroke-width="1.35" fill="none" stroke-linejoin="round" stroke-linecap="round"/>
<path d="M35.5 478.1C36.27 482.97 37.03 489.7 37.8 492.7C39.27 498.44 40.73 501.88 42.2 504.4C44.17 507.78 46.13 510.86 48.1 511.7C50.03 512.53 51.97 513.2 53.9 513.2C55.83 513.2 57.77 512.6 59.7 512.6C61.17 512.6 62.63 514.52 64.1 516.1C66.03 518.18 67.97 521.97 69.9 526.3C71.37 529.58 72.83 534.73 74.3 539.4C75.67 543.75 77.03 549.19 78.4 553.4C79.8 557.72 81.2 561.57 82.6 565.2C84 568.83 85.4 572.43 86.8 575.3C88.2 578.17 89.6 580.92 91 582.8C92.97 585.44 94.93 587.26 96.9 589C99.13 590.98 101.37 592.82 103.6 594.1C106.4 595.7 109.2 596.89 112 597.9C114.8 598.91 117.6 599.71 120.4 600.4C123.6 601.19 126.8 601.85 130 602.4C133.63 603.03 137.27 603.44 140.9 604C145.87 604.76 150.83 605.6 155.8 606.4C160.73 607.2 165.67 608.04 170.6 608.8C175.57 609.57 180.53 610.31 185.5 611C190.33 611.67 195.17 612.22 200 612.9C203.8 613.43 207.6 614.18 211.4 614.6C217.33 615.25 223.27 615.52 229.2 616.1C235.77 616.74 242.33 617.63 248.9 618.4" stroke="#ff1e1e" stroke-width="1.35" fill="none" stroke-linejoin="round" stroke-linecap="round"/>
<text x="278.3" y="470.6" font-size="12.4" text-anchor="start" font-weight="bold" font-family="Liberation Serif, serif" fill="#000" >F</text>
<path d="M313.5 469.8V653.9" stroke="#555" stroke-width="1.3" fill="none"/>
<path d="M313 653.4H530.3" stroke="#555" stroke-width="1.1" fill="none"/>
<text x="307.7" y="655.9" font-size="6.8" text-anchor="end" font-weight="bold" font-family="Liberation Sans, sans-serif" fill="#1a1a1a" textLength="8.2" lengthAdjust="spacingAndGlyphs" >0.0</text>
<text x="307.7" y="629.7" font-size="6.8" text-anchor="end" font-weight="bold" font-family="Liberation Sans, sans-serif" fill="#1a1a1a" textLength="8.2" lengthAdjust="spacingAndGlyphs" >0.5</text>
<text x="307.7" y="603.5" font-size="6.8" text-anchor="end" font-weight="bold" font-family="Liberation Sans, sans-serif" fill="#1a1a1a" textLength="8.2" lengthAdjust="spacingAndGlyphs" >1.0</text>
<text x="307.7" y="577.3" font-size="6.8" text-anchor="end" font-weight="bold" font-family="Liberation Sans, sans-serif" fill="#1a1a1a" textLength="8.2" lengthAdjust="spacingAndGlyphs" >1.5</text>
<text x="307.7" y="551.1" font-size="6.8" text-anchor="end" font-weight="bold" font-family="Liberation Sans, sans-serif" fill="#1a1a1a" textLength="8.2" lengthAdjust="spacingAndGlyphs" >2.0</text>
<text x="307.7" y="524.9" font-size="6.8" text-anchor="end" font-weight="bold" font-family="Liberation Sans, sans-serif" fill="#1a1a1a" textLength="8.2" lengthAdjust="spacingAndGlyphs" >2.5</text>
<text x="307.7" y="498.7" font-size="6.8" text-anchor="end" font-weight="bold" font-family="Liberation Sans, sans-serif" fill="#1a1a1a" textLength="8.2" lengthAdjust="spacingAndGlyphs" >3.0</text>
<text x="307.7" y="472.5" font-size="6.8" text-anchor="end" font-weight="bold" font-family="Liberation Sans, sans-serif" fill="#1a1a1a" textLength="8.2" lengthAdjust="spacingAndGlyphs" >3.5</text>
<text x="313.5" y="664.2" font-size="6.8" text-anchor="middle" font-weight="bold" font-family="Liberation Sans, sans-serif" fill="#1a1a1a" textLength="9.5" lengthAdjust="spacingAndGlyphs" >300</text>
<text x="340.54" y="664.2" font-size="6.8" text-anchor="middle" font-weight="bold" font-family="Liberation Sans, sans-serif" fill="#1a1a1a" textLength="9.5" lengthAdjust="spacingAndGlyphs" >350</text>
<text x="367.57" y="664.2" font-size="6.8" text-anchor="middle" font-weight="bold" font-family="Liberation Sans, sans-serif" fill="#1a1a1a" textLength="9.5" lengthAdjust="spacingAndGlyphs" >400</text>
<text x="394.61" y="664.2" font-size="6.8" text-anchor="middle" font-weight="bold" font-family="Liberation Sans, sans-serif" fill="#1a1a1a" textLength="9.5" lengthAdjust="spacingAndGlyphs" >450</text>
<text x="421.65" y="664.2" font-size="6.8" text-anchor="middle" font-weight="bold" font-family="Liberation Sans, sans-serif" fill="#1a1a1a" textLength="9.5" lengthAdjust="spacingAndGlyphs" >500</text>
<text x="448.69" y="664.2" font-size="6.8" text-anchor="middle" font-weight="bold" font-family="Liberation Sans, sans-serif" fill="#1a1a1a" textLength="9.5" lengthAdjust="spacingAndGlyphs" >550</text>
<text x="475.72" y="664.2" font-size="6.8" text-anchor="middle" font-weight="bold" font-family="Liberation Sans, sans-serif" fill="#1a1a1a" textLength="9.5" lengthAdjust="spacingAndGlyphs" >600</text>
<text x="502.76" y="664.2" font-size="6.8" text-anchor="middle" font-weight="bold" font-family="Liberation Sans, sans-serif" fill="#1a1a1a" textLength="9.5" lengthAdjust="spacingAndGlyphs" >650</text>
<text x="529.8" y="664.2" font-size="6.8" text-anchor="middle" font-weight="bold" font-family="Liberation Sans, sans-serif" fill="#1a1a1a" textLength="9.5" lengthAdjust="spacingAndGlyphs" >700</text>
<path d="M310.3 653.4H313.5M311.7 640.3H313.5M310.3 627.2H313.5M311.7 614.1H313.5M310.3 601H313.5M311.7 587.9H313.5M310.3 574.8H313.5M311.7 561.7H313.5M310.3 548.6H313.5M311.7 535.5H313.5M310.3 522.4H313.5M311.7 509.3H313.5M310.3 496.2H313.5M311.7 483.1H313.5M310.3 470H313.5M313.5 653.4V656.4M327.02 653.4V655M340.54 653.4V656.4M354.06 653.4V655M367.57 653.4V656.4M381.09 653.4V655M394.61 653.4V656.4M408.13 653.4V655M421.65 653.4V656.4M435.17 653.4V655M448.69 653.4V656.4M462.21 653.4V655M475.72 653.4V656.4M489.24 653.4V655M502.76 653.4V656.4M516.28 653.4V655M529.8 653.4V656.4" stroke="#333" stroke-width="0.9" fill="none"/>
<text transform="translate(292.3 561.5) rotate(-90)" x="0" y="2.9" font-size="8" text-anchor="middle" font-weight="bold" font-family="Liberation Sans, sans-serif" fill="#111" textLength="40.5" lengthAdjust="spacingAndGlyphs">Absorbance</text>
<text x="421.6" y="676.8" font-size="7.7" text-anchor="middle" font-weight="bold" font-family="Liberation Sans, sans-serif" fill="#111" textLength="52.4" lengthAdjust="spacingAndGlyphs" >Wavelength (nm)</text>
<path d="M313.5 644.5C317.2 645.17 320.9 646.01 324.6 646.5C329.47 647.14 334.33 647.75 339.2 648C348.93 648.49 358.67 648.74 368.4 648.9C387.27 649.21 406.13 649.5 425 649.5C459.83 649.5 494.67 649.37 529.5 649.3" stroke="#222" stroke-width="1.15" fill="none" stroke-linejoin="round" stroke-linecap="round"/>
<path d="M313.8 469.6C314 471.27 314.2 473.74 314.4 474.6C314.8 476.31 315.2 476.55 315.6 477.8C315.93 478.84 316.27 481.02 316.6 481.5C317.07 482.17 317.53 482.19 318 482.7C318.53 483.28 319.07 484.78 319.6 485.1C320.13 485.42 320.67 485.7 321.2 485.7C321.5 485.7 321.8 485.2 322.1 485.2C322.33 485.2 322.57 486.31 322.8 486.7C323.2 487.37 323.6 487.66 324 488.3C324.4 488.94 324.8 490.29 325.2 490.7C325.63 491.15 326.07 491.14 326.5 491.6C327.03 492.16 327.57 493.97 328.1 495.5C328.63 497.03 329.17 499.23 329.7 501.1C330.23 502.97 330.77 504.69 331.3 506.7C331.83 508.71 332.37 510.88 332.9 513.2C333.3 514.94 333.7 516.91 334.1 518.8C334.53 520.84 334.97 522.9 335.4 525C336.67 531.13 337.93 537.31 339.2 543.8C340.67 551.31 342.13 559.85 343.6 567.2C345.03 574.39 346.47 581.7 347.9 587.6C349.37 593.64 350.83 599 352.3 603.6C354.27 609.77 356.23 615.57 358.2 619.7C360.63 624.81 363.07 629.4 365.5 632C368.4 635.1 371.3 637.58 374.2 638.7C378.1 640.2 382 640.97 385.9 641.6C391.73 642.54 397.57 643.09 403.4 643.6C410.6 644.23 417.8 644.67 425 645.1C430.1 645.4 435.2 645.68 440.3 645.9C451.47 646.39 462.63 646.96 473.8 647.1C492.37 647.34 510.93 647.37 529.5 647.5" stroke="#1e1eff" stroke-width="1.35" fill="none" stroke-linejoin="round" stroke-linecap="round"/>
<path d="M313.8 523.5C314.87 528.43 315.93 534.57 317 538.3C318.57 543.79 320.13 547 321.7 551.2C323.63 556.39 325.57 562.01 327.5 566.4C329.43 570.79 331.37 575.25 333.3 578C335.63 581.31 337.97 584.11 340.3 585.6C342.67 587.11 345.03 588.48 347.4 588.8C350.5 589.21 353.6 589.5 356.7 589.5C361.13 589.5 365.57 588.86 370 588.3C372.37 588 374.73 587.36 377.1 587C381 586.4 384.9 585.5 388.8 585.5C391.73 585.5 394.67 585.77 397.6 586.1C400.5 586.43 403.4 587.93 406.3 589.1C409.23 590.29 412.17 591.72 415.1 593.4C416.07 593.95 417.03 594.66 418 595.3C420.97 597.27 423.93 599.21 426.9 601.3C430.63 603.93 434.37 607 438.1 609.6C441.8 612.18 445.5 614.79 449.2 616.9C453.67 619.45 458.13 621.71 462.6 623.6C467.07 625.49 471.53 627.03 476 628.5C480.47 629.97 484.93 631.38 489.4 632.5C493.87 633.62 498.33 634.54 502.8 635.4C507.23 636.25 511.67 637.1 516.1 637.7C520.57 638.31 525.03 638.7 529.5 639.2" stroke="#ff1e1e" stroke-width="1.35" fill="none" stroke-linejoin="round" stroke-linecap="round"/>
<rect x="163.5" y="13" width="78" height="55.6" fill="#f1f0ef"/>
<rect x="165.2" y="35.6" width="23.6" height="30.4" rx="2.2" fill="url(#glass)"/>
<rect x="166.7" y="49.3" width="20.6" height="14.7" rx="2" fill="#f7f7f7" opacity="0.9"/>
<ellipse cx="177" cy="52.3" rx="7.68" ry="2.2" fill="none" stroke="#bdbdbd" stroke-width="0.7"/>
<ellipse cx="177" cy="55.8" rx="6.66" ry="1.6" fill="none" stroke="#cccccc" stroke-width="0.6"/>
<ellipse cx="177" cy="59.3" rx="6.14" ry="1.3" fill="none" stroke="#d4d4d4" stroke-width="0.5"/>
<path d="M165.6 38.6V64M188.4 38.6V64" stroke="#bbbbbb" stroke-width="0.6" fill="none"/>
<path d="M164.2 18.29 V35.02 A12.8 3.59 0 0 0 189.8 35.02 V18.29 A12.8 3.59 0 0 0 164.2 18.29 Z" fill="#0a0a0a"/>
<ellipse cx="177" cy="18.29" rx="12.2" ry="3.19" fill="url(#captop)"/>
<rect x="192.2" y="33" width="21.8" height="33" rx="2.2" fill="url(#glass)"/>
<linearGradient id="lq1" x1="0" x2="1" y1="0" y2="0"><stop offset="0" stop-color="#dfe1c0"/><stop offset="0.35" stop-color="#ecedd8"/><stop offset="0.7" stop-color="#ecedd8"/><stop offset="1" stop-color="#dfe1c0"/></linearGradient>
<rect x="192.2" y="44.7" width="21.8" height="20.8" rx="1.8" fill="url(#lq1)"/>
<ellipse cx="203.1" cy="46.3" rx="10.3" ry="1.6" fill="#f2f2e4" opacity="0.8"/>
<path d="M192.6 36V64M213.6 36V64" stroke="#bbbbbb" stroke-width="0.6" fill="none"/>
<path d="M191.2 17.89 V32.8 A11.9 3.19 0 0 0 215 32.8 V17.89 A11.9 3.19 0 0 0 191.2 17.89 Z" fill="#0a0a0a"/>
<ellipse cx="203.1" cy="17.89" rx="11.3" ry="2.79" fill="url(#captop)"/>
<rect x="217" y="30.3" width="23" height="34.7" rx="2.2" fill="url(#glass)"/>
<linearGradient id="lq2" x1="0" x2="1" y1="0" y2="0"><stop offset="0" stop-color="#cdae6c"/><stop offset="0.35" stop-color="#dcc48e"/><stop offset="0.7" stop-color="#dcc48e"/><stop offset="1" stop-color="#cdae6c"/></linearGradient>
<rect x="217" y="47.4" width="23" height="15.9" rx="1.8" fill="url(#lq2)"/>
<ellipse cx="228.5" cy="49" rx="10.9" ry="1.6" fill="#e8dab4" opacity="0.8"/>
<path d="M217.4 33.3V63M239.6 33.3V63" stroke="#bbbbbb" stroke-width="0.6" fill="none"/>
<path d="M216 16.47 V30.33 A12.5 2.97 0 0 0 241 30.33 V16.47 A12.5 2.97 0 0 0 216 16.47 Z" fill="#0a0a0a"/>
<ellipse cx="228.5" cy="16.47" rx="11.9" ry="2.57" fill="url(#captop)"/>
<g stroke="#111" stroke-width="0.4">
<text x="167.4" y="77.4" font-size="7.9" font-weight="bold" font-family="Liberation Serif, serif" fill="#111" textLength="16.68" lengthAdjust="spacingAndGlyphs">AgNO</text>
<text x="184.28" y="79" font-size="5.2" font-weight="bold" font-family="Liberation Serif, serif" fill="#111">3</text>
<text x="193.8" y="77.4" font-size="7.9" text-anchor="start" font-weight="bold" font-family="Liberation Serif, serif" fill="#111" textLength="21.2" lengthAdjust="spacingAndGlyphs" >Extract</text>
<text x="220.3" y="77.4" font-size="7.9" text-anchor="start" font-weight="bold" font-family="Liberation Serif, serif" fill="#111" textLength="19.1" lengthAdjust="spacingAndGlyphs" >AgNPs</text>
</g>
<path d="M170 81.8H183.3" stroke="#222" stroke-width="1.6"/>
<path d="M197 81.8H212.4" stroke="#3a6cf0" stroke-width="1.6"/>
<path d="M222 81.8H237.6" stroke="#ff3030" stroke-width="1.6"/>
<rect x="442.8" y="0" width="87.4" height="59.1" fill="#f1f0ef"/>
<rect x="444.4" y="24.9" width="26.8" height="30.9" rx="2.2" fill="url(#glass)"/>
<rect x="445.9" y="38.85" width="23.8" height="14.95" rx="2" fill="#f7f7f7" opacity="0.9"/>
<ellipse cx="457.8" cy="41.85" rx="8.64" ry="2.2" fill="none" stroke="#bdbdbd" stroke-width="0.7"/>
<ellipse cx="457.8" cy="45.35" rx="7.49" ry="1.6" fill="none" stroke="#cccccc" stroke-width="0.6"/>
<ellipse cx="457.8" cy="48.85" rx="6.91" ry="1.3" fill="none" stroke="#d4d4d4" stroke-width="0.5"/>
<path d="M444.8 27.9V53.8M470.8 27.9V53.8" stroke="#bbbbbb" stroke-width="0.6" fill="none"/>
<path d="M443.4 4.95 V23.85 A14.4 4.05 0 0 0 472.2 23.85 V4.95 A14.4 4.05 0 0 0 443.4 4.95 Z" fill="#0a0a0a"/>
<ellipse cx="457.8" cy="4.95" rx="13.8" ry="3.65" fill="url(#captop)"/>
<rect x="475" y="20.2" width="24.4" height="37.8" rx="2.2" fill="url(#glass)"/>
<linearGradient id="lq3" x1="0" x2="1" y1="0" y2="0"><stop offset="0" stop-color="#3b8410"/><stop offset="0.35" stop-color="#55a020"/><stop offset="0.7" stop-color="#55a020"/><stop offset="1" stop-color="#3b8410"/></linearGradient>
<rect x="475.5" y="32.5" width="23.6" height="24.2" rx="1.8" fill="url(#lq3)"/>
<ellipse cx="487.3" cy="34.1" rx="11.2" ry="1.6" fill="#3a7a12" opacity="0.8"/>
<path d="M475.4 23.2V56M499 23.2V56" stroke="#bbbbbb" stroke-width="0.6" fill="none"/>
<path d="M474 4.75 V19.95 A13.2 3.25 0 0 0 500.4 19.95 V4.75 A13.2 3.25 0 0 0 474 4.75 Z" fill="#0a0a0a"/>
<ellipse cx="487.2" cy="4.75" rx="12.6" ry="2.85" fill="url(#captop)"/>
<rect x="502.9" y="20.2" width="25.9" height="37.8" rx="2.2" fill="url(#glass)"/>
<linearGradient id="lq4" x1="0" x2="1" y1="0" y2="0"><stop offset="0" stop-color="#4d4428"/><stop offset="0.35" stop-color="#675c3a"/><stop offset="0.7" stop-color="#675c3a"/><stop offset="1" stop-color="#4d4428"/></linearGradient>
<rect x="502.8" y="40.9" width="21" height="16.7" rx="1.8" fill="url(#lq4)"/>
<ellipse cx="513.3" cy="42.5" rx="9.9" ry="1.6" fill="#8a8062" opacity="0.8"/>
<path d="M503.3 23.2V56M528.4 23.2V56" stroke="#bbbbbb" stroke-width="0.6" fill="none"/>
<path d="M501.9 5.09 V20 A13.95 3.19 0 0 0 529.8 20 V5.09 A13.95 3.19 0 0 0 501.9 5.09 Z" fill="#0a0a0a"/>
<ellipse cx="515.85" cy="5.09" rx="13.35" ry="2.79" fill="url(#captop)"/>
<g stroke="#111" stroke-width="0.4">
<text x="445.3" y="67.6" font-size="7.9" font-weight="bold" font-family="Liberation Serif, serif" fill="#111" textLength="19.69" lengthAdjust="spacingAndGlyphs">AgNO</text>
<text x="465.22" y="69.2" font-size="5.2" font-weight="bold" font-family="Liberation Serif, serif" fill="#111">3</text>
<text x="475.2" y="67.6" font-size="7.9" text-anchor="start" font-weight="bold" font-family="Liberation Serif, serif" fill="#111" textLength="23.1" lengthAdjust="spacingAndGlyphs" >Extract</text>
<text x="504.1" y="67.6" font-size="7.9" text-anchor="start" font-weight="bold" font-family="Liberation Serif, serif" fill="#111" textLength="21.1" lengthAdjust="spacingAndGlyphs" >AgNPs</text>
</g>
<path d="M447.7 73.2H462.8" stroke="#333" stroke-width="1.6"/>
<path d="M478 73.2H495.5" stroke="#3030ff" stroke-width="1.6"/>
<path d="M506.5 73.2H523.5" stroke="#ff3434" stroke-width="1.6"/>
<rect x="137.1" y="253.4" width="89.2" height="58.5" fill="#f1f0ef"/>
<rect x="138.4" y="278.2" width="26.3" height="30.9" rx="2.2" fill="url(#glass)"/>
<rect x="139.9" y="292.15" width="23.3" height="14.95" rx="2" fill="#f7f7f7" opacity="0.9"/>
<ellipse cx="151.55" cy="295.15" rx="8.49" ry="2.2" fill="none" stroke="#bdbdbd" stroke-width="0.7"/>
<ellipse cx="151.55" cy="298.65" rx="7.36" ry="1.6" fill="none" stroke="#cccccc" stroke-width="0.6"/>
<ellipse cx="151.55" cy="302.15" rx="6.79" ry="1.3" fill="none" stroke="#d4d4d4" stroke-width="0.5"/>
<path d="M138.8 281.2V307.1M164.3 281.2V307.1" stroke="#bbbbbb" stroke-width="0.6" fill="none"/>
<path d="M137.4 259.1 V277.3 A14.15 3.9 0 0 0 165.7 277.3 V259.1 A14.15 3.9 0 0 0 137.4 259.1 Z" fill="#0a0a0a"/>
<ellipse cx="151.55" cy="259.1" rx="13.55" ry="3.5" fill="url(#captop)"/>
<rect x="168.2" y="271.7" width="26.8" height="38.8" rx="2.2" fill="url(#glass)"/>
<linearGradient id="lq5" x1="0" x2="1" y1="0" y2="0"><stop offset="0" stop-color="#c4b408"/><stop offset="0.35" stop-color="#dccf2a"/><stop offset="0.7" stop-color="#dccf2a"/><stop offset="1" stop-color="#c4b408"/></linearGradient>
<rect x="168.7" y="287.4" width="26.3" height="23" rx="1.8" fill="url(#lq5)"/>
<ellipse cx="181.85" cy="289" rx="12.55" ry="1.6" fill="#e8de70" opacity="0.8"/>
<path d="M168.6 274.7V308.5M194.6 274.7V308.5" stroke="#bbbbbb" stroke-width="0.6" fill="none"/>
<path d="M167.2 257.02 V271.58 A14.4 3.12 0 0 0 196 271.58 V257.02 A14.4 3.12 0 0 0 167.2 257.02 Z" fill="#0a0a0a"/>
<ellipse cx="181.6" cy="257.02" rx="13.8" ry="2.72" fill="url(#captop)"/>
<rect x="197.9" y="271.7" width="26.8" height="38.8" rx="2.2" fill="url(#glass)"/>
<linearGradient id="lq6" x1="0" x2="1" y1="0" y2="0"><stop offset="0" stop-color="#581a04"/><stop offset="0.35" stop-color="#74280a"/><stop offset="0.7" stop-color="#74280a"/><stop offset="1" stop-color="#581a04"/></linearGradient>
<rect x="198.8" y="290.5" width="24.1" height="19.5" rx="1.8" fill="url(#lq6)"/>
<ellipse cx="210.85" cy="292.1" rx="11.45" ry="1.6" fill="#a85a1c" opacity="0.8"/>
<path d="M198.3 274.7V308.5M224.3 274.7V308.5" stroke="#bbbbbb" stroke-width="0.6" fill="none"/>
<path d="M196.9 257.02 V271.58 A14.4 3.12 0 0 0 225.7 271.58 V257.02 A14.4 3.12 0 0 0 196.9 257.02 Z" fill="#0a0a0a"/>
<ellipse cx="211.3" cy="257.02" rx="13.8" ry="2.72" fill="url(#captop)"/>
<g stroke="#111" stroke-width="0.4">
<text x="140.2" y="319.7" font-size="7.9" font-weight="bold" font-family="Liberation Serif, serif" fill="#111" textLength="19.69" lengthAdjust="spacingAndGlyphs">AgNO</text>
<text x="160.12" y="321.3" font-size="5.2" font-weight="bold" font-family="Liberation Serif, serif" fill="#111">3</text>
<text x="170.5" y="319.7" font-size="7.9" text-anchor="start" font-weight="bold" font-family="Liberation Serif, serif" fill="#111" textLength="23.6" lengthAdjust="spacingAndGlyphs" >Extract</text>
<text x="199.7" y="319.7" font-size="7.9" text-anchor="start" font-weight="bold" font-family="Liberation Serif, serif" fill="#111" textLength="21.4" lengthAdjust="spacingAndGlyphs" >AgNPs</text>
</g>
<path d="M143 325.3H158.3" stroke="#333" stroke-width="1.6"/>
<path d="M173.7 325.3H191" stroke="#3030ff" stroke-width="1.6"/>
<path d="M202.1 325.3H218.8" stroke="#ff3434" stroke-width="1.6"/>
<rect x="437.1" y="252.8" width="91" height="55.4" fill="#f1f0ef"/>
<rect x="438.8" y="275.5" width="26.4" height="29.9" rx="2.2" fill="url(#glass)"/>
<rect x="440.3" y="288.95" width="23.4" height="14.45" rx="2" fill="#f7f7f7" opacity="0.9"/>
<ellipse cx="452" cy="291.95" rx="8.52" ry="2.2" fill="none" stroke="#bdbdbd" stroke-width="0.7"/>
<ellipse cx="452" cy="295.45" rx="7.38" ry="1.6" fill="none" stroke="#cccccc" stroke-width="0.6"/>
<ellipse cx="452" cy="298.95" rx="6.82" ry="1.3" fill="none" stroke="#d4d4d4" stroke-width="0.5"/>
<path d="M439.2 278.5V303.4M464.8 278.5V303.4" stroke="#bbbbbb" stroke-width="0.6" fill="none"/>
<path d="M437.8 257.17 V274.74 A14.2 3.76 0 0 0 466.2 274.74 V257.17 A14.2 3.76 0 0 0 437.8 257.17 Z" fill="#0a0a0a"/>
<ellipse cx="452" cy="257.17" rx="13.6" ry="3.36" fill="url(#captop)"/>
<rect x="468.2" y="271.7" width="27.7" height="35.8" rx="2.2" fill="url(#glass)"/>
<linearGradient id="lq7" x1="0" x2="1" y1="0" y2="0"><stop offset="0" stop-color="#cfc60a"/><stop offset="0.35" stop-color="#e0d830"/><stop offset="0.7" stop-color="#e0d830"/><stop offset="1" stop-color="#cfc60a"/></linearGradient>
<rect x="468.1" y="290.5" width="26.9" height="16.8" rx="1.8" fill="url(#lq7)"/>
<ellipse cx="481.55" cy="292.1" rx="12.85" ry="1.6" fill="#ece690" opacity="0.8"/>
<path d="M468.6 274.7V305.5M495.5 274.7V305.5" stroke="#bbbbbb" stroke-width="0.6" fill="none"/>
<path d="M467.2 258.12 V271.77 A14.85 2.92 0 0 0 496.9 271.77 V258.12 A14.85 2.92 0 0 0 467.2 258.12 Z" fill="#0a0a0a"/>
<ellipse cx="482.05" cy="258.12" rx="14.25" ry="2.52" fill="url(#captop)"/>
<rect x="498.8" y="272.7" width="27.8" height="34.8" rx="2.2" fill="url(#glass)"/>
<linearGradient id="lq8" x1="0" x2="1" y1="0" y2="0"><stop offset="0" stop-color="#3a2a12"/><stop offset="0.35" stop-color="#4e3a1e"/><stop offset="0.7" stop-color="#4e3a1e"/><stop offset="1" stop-color="#3a2a12"/></linearGradient>
<rect x="499.1" y="287.4" width="26.6" height="18.9" rx="1.8" fill="url(#lq8)"/>
<ellipse cx="512.4" cy="289" rx="12.7" ry="1.6" fill="#5e4c32" opacity="0.8"/>
<path d="M499.2 275.7V305.5M526.2 275.7V305.5" stroke="#bbbbbb" stroke-width="0.6" fill="none"/>
<path d="M497.8 258.27 V272.62 A14.9 3.07 0 0 0 527.6 272.62 V258.27 A14.9 3.07 0 0 0 497.8 258.27 Z" fill="#0a0a0a"/>
<ellipse cx="512.7" cy="258.27" rx="14.3" ry="2.67" fill="url(#captop)"/>
<g stroke="#111" stroke-width="0.4">
<text x="442.6" y="316.7" font-size="7.9" font-weight="bold" font-family="Liberation Serif, serif" fill="#111" textLength="18.75" lengthAdjust="spacingAndGlyphs">AgNO</text>
<text x="461.57" y="318.3" font-size="5.2" font-weight="bold" font-family="Liberation Serif, serif" fill="#111">3</text>
<text x="471.3" y="316.7" font-size="7.9" text-anchor="start" font-weight="bold" font-family="Liberation Serif, serif" fill="#111" textLength="23.4" lengthAdjust="spacingAndGlyphs" >Extract</text>
<text x="500.3" y="316.7" font-size="7.9" text-anchor="start" font-weight="bold" font-family="Liberation Serif, serif" fill="#111" textLength="20.8" lengthAdjust="spacingAndGlyphs" >AgNPs</text>
</g>
<path d="M444.9 321.2H459.7" stroke="#333" stroke-width="1.6"/>
<path d="M474.6 321.2H491.9" stroke="#3030ff" stroke-width="1.6"/>
<path d="M502.5 321.2H518.8" stroke="#ff3434" stroke-width="1.6"/>
<rect x="166.7" y="478.8" width="81.6" height="56.5" fill="#f1f0ef"/>
<rect x="168.1" y="503.2" width="24.5" height="30.3" rx="2.2" fill="url(#glass)"/>
<rect x="169.6" y="516.85" width="21.5" height="14.65" rx="2" fill="#f7f7f7" opacity="0.9"/>
<ellipse cx="180.35" cy="519.85" rx="7.95" ry="2.2" fill="none" stroke="#bdbdbd" stroke-width="0.7"/>
<ellipse cx="180.35" cy="523.35" rx="6.89" ry="1.6" fill="none" stroke="#cccccc" stroke-width="0.6"/>
<ellipse cx="180.35" cy="526.85" rx="6.36" ry="1.3" fill="none" stroke="#d4d4d4" stroke-width="0.5"/>
<path d="M168.5 506.2V531.5M192.2 506.2V531.5" stroke="#bbbbbb" stroke-width="0.6" fill="none"/>
<path d="M167.1 484.1 V502.3 A13.25 3.9 0 0 0 193.6 502.3 V484.1 A13.25 3.9 0 0 0 167.1 484.1 Z" fill="#0a0a0a"/>
<ellipse cx="180.35" cy="484.1" rx="12.65" ry="3.5" fill="url(#captop)"/>
<rect x="195.4" y="499.7" width="24.5" height="33.8" rx="2.2" fill="url(#glass)"/>
<linearGradient id="lq9" x1="0" x2="1" y1="0" y2="0"><stop offset="0" stop-color="#d0cc0e"/><stop offset="0.35" stop-color="#e4e040"/><stop offset="0.7" stop-color="#e4e040"/><stop offset="1" stop-color="#d0cc0e"/></linearGradient>
<rect x="195.3" y="508" width="23.9" height="23" rx="1.8" fill="url(#lq9)"/>
<ellipse cx="207.25" cy="509.6" rx="11.35" ry="1.6" fill="#eeea80" opacity="0.8"/>
<path d="M195.8 502.7V531.5M219.5 502.7V531.5" stroke="#bbbbbb" stroke-width="0.6" fill="none"/>
<path d="M194.4 484.68 V499.52 A13.25 3.18 0 0 0 220.9 499.52 V484.68 A13.25 3.18 0 0 0 194.4 484.68 Z" fill="#0a0a0a"/>
<ellipse cx="207.65" cy="484.68" rx="12.65" ry="2.78" fill="url(#captop)"/>
<rect x="222.8" y="502.3" width="23.6" height="32.2" rx="2.2" fill="url(#glass)"/>
<linearGradient id="lq10" x1="0" x2="1" y1="0" y2="0"><stop offset="0" stop-color="#3c3010"/><stop offset="0.35" stop-color="#4f4018"/><stop offset="0.7" stop-color="#4f4018"/><stop offset="1" stop-color="#3c3010"/></linearGradient>
<rect x="223.2" y="513.3" width="23" height="20.3" rx="1.8" fill="url(#lq10)"/>
<ellipse cx="234.7" cy="514.9" rx="10.9" ry="1.6" fill="#6a5628" opacity="0.8"/>
<path d="M223.2 505.3V532.5M246 505.3V532.5" stroke="#bbbbbb" stroke-width="0.6" fill="none"/>
<path d="M221.8 483.96 V501.54 A12.8 3.77 0 0 0 247.4 501.54 V483.96 A12.8 3.77 0 0 0 221.8 483.96 Z" fill="#0a0a0a"/>
<ellipse cx="234.6" cy="483.96" rx="12.2" ry="3.37" fill="url(#captop)"/>
<g stroke="#111" stroke-width="0.4">
<text x="169.7" y="543.6" font-size="7.9" font-weight="bold" font-family="Liberation Serif, serif" fill="#111" textLength="17.46" lengthAdjust="spacingAndGlyphs">AgNO</text>
<text x="187.36" y="545.2" font-size="5.2" font-weight="bold" font-family="Liberation Serif, serif" fill="#111">3</text>
<text x="197.1" y="543.6" font-size="7.9" text-anchor="start" font-weight="bold" font-family="Liberation Serif, serif" fill="#111" textLength="21.2" lengthAdjust="spacingAndGlyphs" >Extract</text>
<text x="223.9" y="543.6" font-size="7.9" text-anchor="start" font-weight="bold" font-family="Liberation Serif, serif" fill="#111" textLength="20" lengthAdjust="spacingAndGlyphs" >AgNPs</text>
</g>
<path d="M172 548.6H186.1" stroke="#777" stroke-width="1.6"/>
<path d="M200.3 548.6H216.2" stroke="#2a2aff" stroke-width="1.6"/>
<path d="M226.2 548.6H241.6" stroke="#ff3030" stroke-width="1.6"/>
<rect x="450.6" y="485.6" width="84.4" height="59.2" fill="#f1f0ef"/>
<rect x="451.6" y="510" width="26.2" height="32.5" rx="2.2" fill="url(#glass)"/>
<rect x="453.1" y="524.75" width="23.2" height="15.75" rx="2" fill="#f7f7f7" opacity="0.9"/>
<ellipse cx="464.7" cy="527.75" rx="8.46" ry="2.2" fill="none" stroke="#bdbdbd" stroke-width="0.7"/>
<ellipse cx="464.7" cy="531.25" rx="7.33" ry="1.6" fill="none" stroke="#cccccc" stroke-width="0.6"/>
<ellipse cx="464.7" cy="534.75" rx="6.77" ry="1.3" fill="none" stroke="#d4d4d4" stroke-width="0.5"/>
<path d="M452 513V540.5M477.4 513V540.5" stroke="#bbbbbb" stroke-width="0.6" fill="none"/>
<path d="M450.6 490.48 V509.02 A14.1 3.97 0 0 0 478.8 509.02 V490.48 A14.1 3.97 0 0 0 450.6 490.48 Z" fill="#0a0a0a"/>
<ellipse cx="464.7" cy="490.48" rx="13.5" ry="3.57" fill="url(#captop)"/>
<rect x="480.7" y="504.7" width="25.4" height="38.8" rx="2.2" fill="url(#glass)"/>
<linearGradient id="lq11" x1="0" x2="1" y1="0" y2="0"><stop offset="0" stop-color="#e4e0aa"/><stop offset="0.35" stop-color="#f0ecc8"/><stop offset="0.7" stop-color="#f0ecc8"/><stop offset="1" stop-color="#e4e0aa"/></linearGradient>
<rect x="481" y="522.7" width="24" height="20.3" rx="1.8" fill="url(#lq11)"/>
<ellipse cx="493" cy="524.3" rx="11.4" ry="1.6" fill="#f4f0d8" opacity="0.8"/>
<path d="M481.1 507.7V541.5M505.7 507.7V541.5" stroke="#bbbbbb" stroke-width="0.6" fill="none"/>
<path d="M479.7 489.68 V504.52 A13.7 3.18 0 0 0 507.1 504.52 V489.68 A13.7 3.18 0 0 0 479.7 489.68 Z" fill="#0a0a0a"/>
<ellipse cx="493.4" cy="489.68" rx="13.1" ry="2.78" fill="url(#captop)"/>
<rect x="509.9" y="508.2" width="24.1" height="34.8" rx="2.2" fill="url(#glass)"/>
<linearGradient id="lq12" x1="0" x2="1" y1="0" y2="0"><stop offset="0" stop-color="#70280a"/><stop offset="0.35" stop-color="#8e3a10"/><stop offset="0.7" stop-color="#8e3a10"/><stop offset="1" stop-color="#70280a"/></linearGradient>
<rect x="510.3" y="520.6" width="22.4" height="21.5" rx="1.8" fill="url(#lq12)"/>
<ellipse cx="521.5" cy="522.2" rx="10.6" ry="1.6" fill="#a8581c" opacity="0.8"/>
<path d="M510.3 511.2V541M533.6 511.2V541" stroke="#bbbbbb" stroke-width="0.6" fill="none"/>
<path d="M508.9 490.2 V507.5 A13.05 3.7 0 0 0 535 507.5 V490.2 A13.05 3.7 0 0 0 508.9 490.2 Z" fill="#0a0a0a"/>
<ellipse cx="521.95" cy="490.2" rx="12.45" ry="3.3" fill="url(#captop)"/>
<g stroke="#111" stroke-width="0.4">
<text x="453.8" y="553.2" font-size="7.9" font-weight="bold" font-family="Liberation Serif, serif" fill="#111" textLength="19.26" lengthAdjust="spacingAndGlyphs">AgNO</text>
<text x="473.29" y="554.8" font-size="5.2" font-weight="bold" font-family="Liberation Serif, serif" fill="#111">3</text>
<text x="482.7" y="553.2" font-size="7.9" text-anchor="start" font-weight="bold" font-family="Liberation Serif, serif" fill="#111" textLength="22.6" lengthAdjust="spacingAndGlyphs" >Extract</text>
<text x="511.5" y="553.2" font-size="7.9" text-anchor="start" font-weight="bold" font-family="Liberation Serif, serif" fill="#111" textLength="20.7" lengthAdjust="spacingAndGlyphs" >AgNPs</text>
</g>
<path d="M455.9 558.3H470.9" stroke="#777" stroke-width="1.6"/>
<path d="M486.3 558.3H502.7" stroke="#2a2aff" stroke-width="1.6"/>
<path d="M514.2 558.3H530.1" stroke="#ff3030" stroke-width="1.6"/>
</svg></body></html>
